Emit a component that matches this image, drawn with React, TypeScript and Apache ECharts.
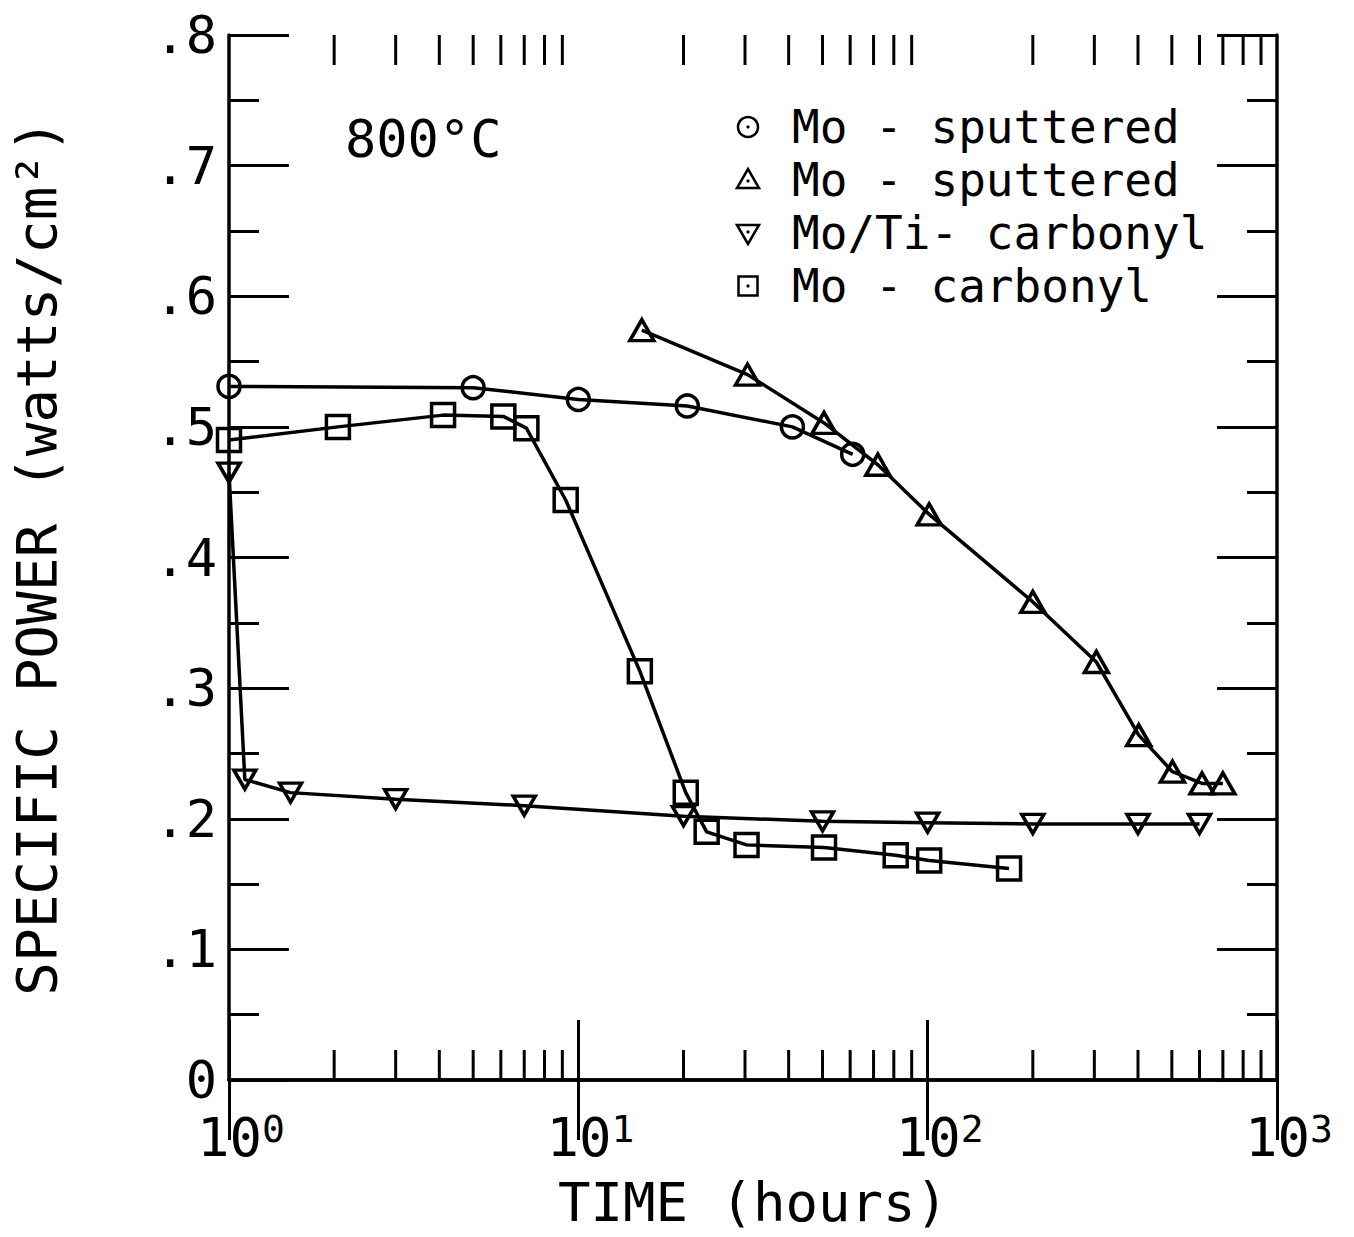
import React, { useEffect, useRef } from "react";
import * as echarts from "echarts";

// ---- data (time in hours, specific power in watts/cm^2) ----
const circleT = [1, 5, 10, 20.5, 41, 61];
const circleV = [0.531, 0.53, 0.521, 0.516, 0.5, 0.479];

const triUpT = [15.2, 30.5, 50.5, 72, 101, 200, 304, 402, 502, 610, 700];
const triUpV = [0.574, 0.54, 0.503, 0.471, 0.433, 0.366, 0.32, 0.264, 0.236, 0.227, 0.227];

const triDownT = [1.0, 1.11, 1.5, 3.0, 7.0, 20, 50, 100, 200, 400, 600];
const triDownV = [0.465, 0.23, 0.22, 0.215, 0.21, 0.202, 0.198, 0.197, 0.196, 0.196, 0.196];

const squareT = [1.0, 2.05, 4.1, 6.1, 7.1, 9.2, 15, 20.3, 23.3, 30.3, 50.5, 81, 101, 171];
const squareV = [0.49, 0.5, 0.509, 0.508, 0.499, 0.444, 0.313, 0.22, 0.19, 0.18, 0.178, 0.172, 0.168, 0.162];

const legendLabels = ["Mo - sputtered", "Mo - sputtered", "Mo/Ti- carbonyl", "Mo - carbonyl"];
const minorMultipliers = [2, 3, 4, 5, 6, 7, 8, 9];
const decadeStarts = [1, 10, 100];
const yTickLabel = (v: number) => (v === 0 ? "0" : "." + Math.round(v * 10));

const FONT = "DejaVu Sans Mono";
const BLACK = "#000";

function pairs(t: number[], v: number[]) {
  return t.map((x, i) => [x, v[i]]);
}

export default function App() {
  const ref = useRef<HTMLDivElement>(null);

  useEffect(() => {
    if (!ref.current) return;
    const chart = echarts.init(ref.current, undefined, { renderer: "svg" });

    const seriesBase = {
      type: "line" as const,
      lineStyle: { color: BLACK, width: 3.5 },
      itemStyle: { color: "rgba(0,0,0,0)", borderColor: BLACK, borderWidth: 3.5 },
      showAllSymbol: true,
      silent: true,
    };

    const commonY = {
      type: "value" as const,
      min: 0,
      max: 0.8,
      interval: 0.1,
      axisLine: { show: true, lineStyle: { color: BLACK, width: 3.5 } },
      axisTick: { show: true, inside: true, length: 60, lineStyle: { color: BLACK, width: 3 } },
      minorTick: { show: true, splitNumber: 2, length: 30, lineStyle: { color: BLACK, width: 3 } },
      splitLine: { show: false },
    };

    const commonX = {
      type: "log" as const,
      logBase: 10,
      min: 1,
      max: 1000,
      axisLine: { show: true, lineStyle: { color: BLACK, width: 3.5 } },
      axisTick: { show: true, inside: true, length: 60, lineStyle: { color: BLACK, width: 3 } },
      splitLine: { show: false },
      minorTick: { show: false },
    };

    chart.setOption({
      animation: false,
      backgroundColor: "#fff",
      grid: { left: 222, right: 77, top: 35, bottom: 157, containLabel: false },
      xAxis: [
        {
          ...commonX,
          position: "bottom",
          name: "TIME (hours)",
          nameLocation: "middle",
          nameGap: 95,
          nameTextStyle: { fontFamily: FONT, fontSize: 54, color: BLACK },
          axisLabel: {
            margin: 30,
            formatter: (v: number) => `{pad|}{b|10}{s|${Math.round(Math.log10(v))}}`,
            rich: {
              pad: { width: 24 },
              b: { fontFamily: FONT, fontSize: 54, color: BLACK },
              s: { fontFamily: FONT, fontSize: 38, color: BLACK, verticalAlign: "top" },
            },
          },
        },
        {
          ...commonX,
          position: "top",
          axisLabel: { show: false },
        },
      ],
      yAxis: [
        {
          ...commonY,
          position: "left",
          name: "SPECIFIC POWER (watts/cm\u00B2)",
          nameLocation: "middle",
          nameRotate: 90,
          nameGap: 165,
          nameTextStyle: { fontFamily: FONT, fontSize: 56, color: BLACK },
          axisLabel: {
            margin: 12,
            formatter: yTickLabel,
            fontFamily: FONT,
            fontSize: 52,
            color: BLACK,
          },
        },
        {
          ...commonY,
          position: "right",
          axisLabel: { show: false },
        },
      ],
      series: [
        { ...seriesBase, name: "circle", symbol: "circle", symbolSize: 22, data: pairs(circleT, circleV) },
        { ...seriesBase, name: "triUp", symbol: "triangle", symbolSize: [24, 21], data: pairs(triUpT, triUpV) },
        {
          ...seriesBase,
          name: "triDown",
          symbol: "triangle",
          symbolRotate: 180,
          symbolSize: [22, 19],
          data: pairs(triDownT, triDownV),
        },
        { ...seriesBase, name: "square", symbol: "rect", symbolSize: 23, data: pairs(squareT, squareV) },
      ],
    });

    // Minor log ticks (2..9 in each decade) on bottom & top, placed through the axis scale
    const yBottom = chart.convertToPixel({ yAxisIndex: 0 }, 0) as number;
    const yTop = chart.convertToPixel({ yAxisIndex: 0 }, 0.8) as number;
    const tickEls: any[] = [];
    decadeStarts.forEach((d) => {
      minorMultipliers.forEach((m) => {
        const x = chart.convertToPixel({ xAxisIndex: 0 }, d * m) as number;
        tickEls.push({
          type: "line",
          shape: { x1: x, y1: yBottom, x2: x, y2: yBottom - 30 },
          style: { stroke: BLACK, lineWidth: 3 },
          silent: true,
        });
        tickEls.push({
          type: "line",
          shape: { x1: x, y1: yTop, x2: x, y2: yTop + 30 },
          style: { stroke: BLACK, lineWidth: 3 },
          silent: true,
        });
      });
    });

    // Legend (drawn as graphics because two series share the same label)
    const lx = 748;
    const rows = [127, 180, 233, 286];
    const symStyle = { stroke: BLACK, lineWidth: 2.5, fill: "#fff" };
    const dot = (cy: number) => ({
      type: "circle",
      shape: { cx: lx, cy, r: 1.6 },
      style: { fill: BLACK },
      silent: true,
    });
    const legendEls: any[] = [
      { type: "circle", shape: { cx: lx, cy: rows[0], r: 10 }, style: symStyle, silent: true },
      dot(rows[0]),
      {
        type: "polygon",
        shape: { points: [[lx, rows[1] - 11], [lx - 11, rows[1] + 8], [lx + 11, rows[1] + 8]] },
        style: symStyle,
        silent: true,
      },
      dot(rows[1] + 1),
      {
        type: "polygon",
        shape: { points: [[lx, rows[2] + 11], [lx - 11, rows[2] - 8], [lx + 11, rows[2] - 8]] },
        style: symStyle,
        silent: true,
      },
      dot(rows[2] - 1),
      { type: "rect", shape: { x: lx - 9.5, y: rows[3] - 9.5, width: 19, height: 19 }, style: symStyle, silent: true },
      dot(rows[3]),
    ];
    legendLabels.forEach((label, i) => {
      legendEls.push({
        type: "text",
        x: 792,
        y: rows[i],
        style: {
          text: label,
          fontFamily: FONT,
          fontSize: 46,
          lineHeight: 46,
          fill: BLACK,
          align: "left",
          verticalAlign: "middle",
        },
        silent: true,
      });
    });

    chart.setOption({
      graphic: [
        ...tickEls,
        ...legendEls,
        {
          type: "text",
          x: 345,
          y: 139,
          style: {
            text: "800\u00B0C",
            fontFamily: FONT,
            fontSize: 52,
            fill: BLACK,
            align: "left",
            verticalAlign: "middle",
          },
          silent: true,
        },
      ],
    });

    return () => chart.dispose();
  }, []);

  return (
    <div
      ref={ref}
      style={{ position: "fixed", left: 0, top: 0, width: 1354, height: 1237, background: "#fff" }}
    />
  );
}
